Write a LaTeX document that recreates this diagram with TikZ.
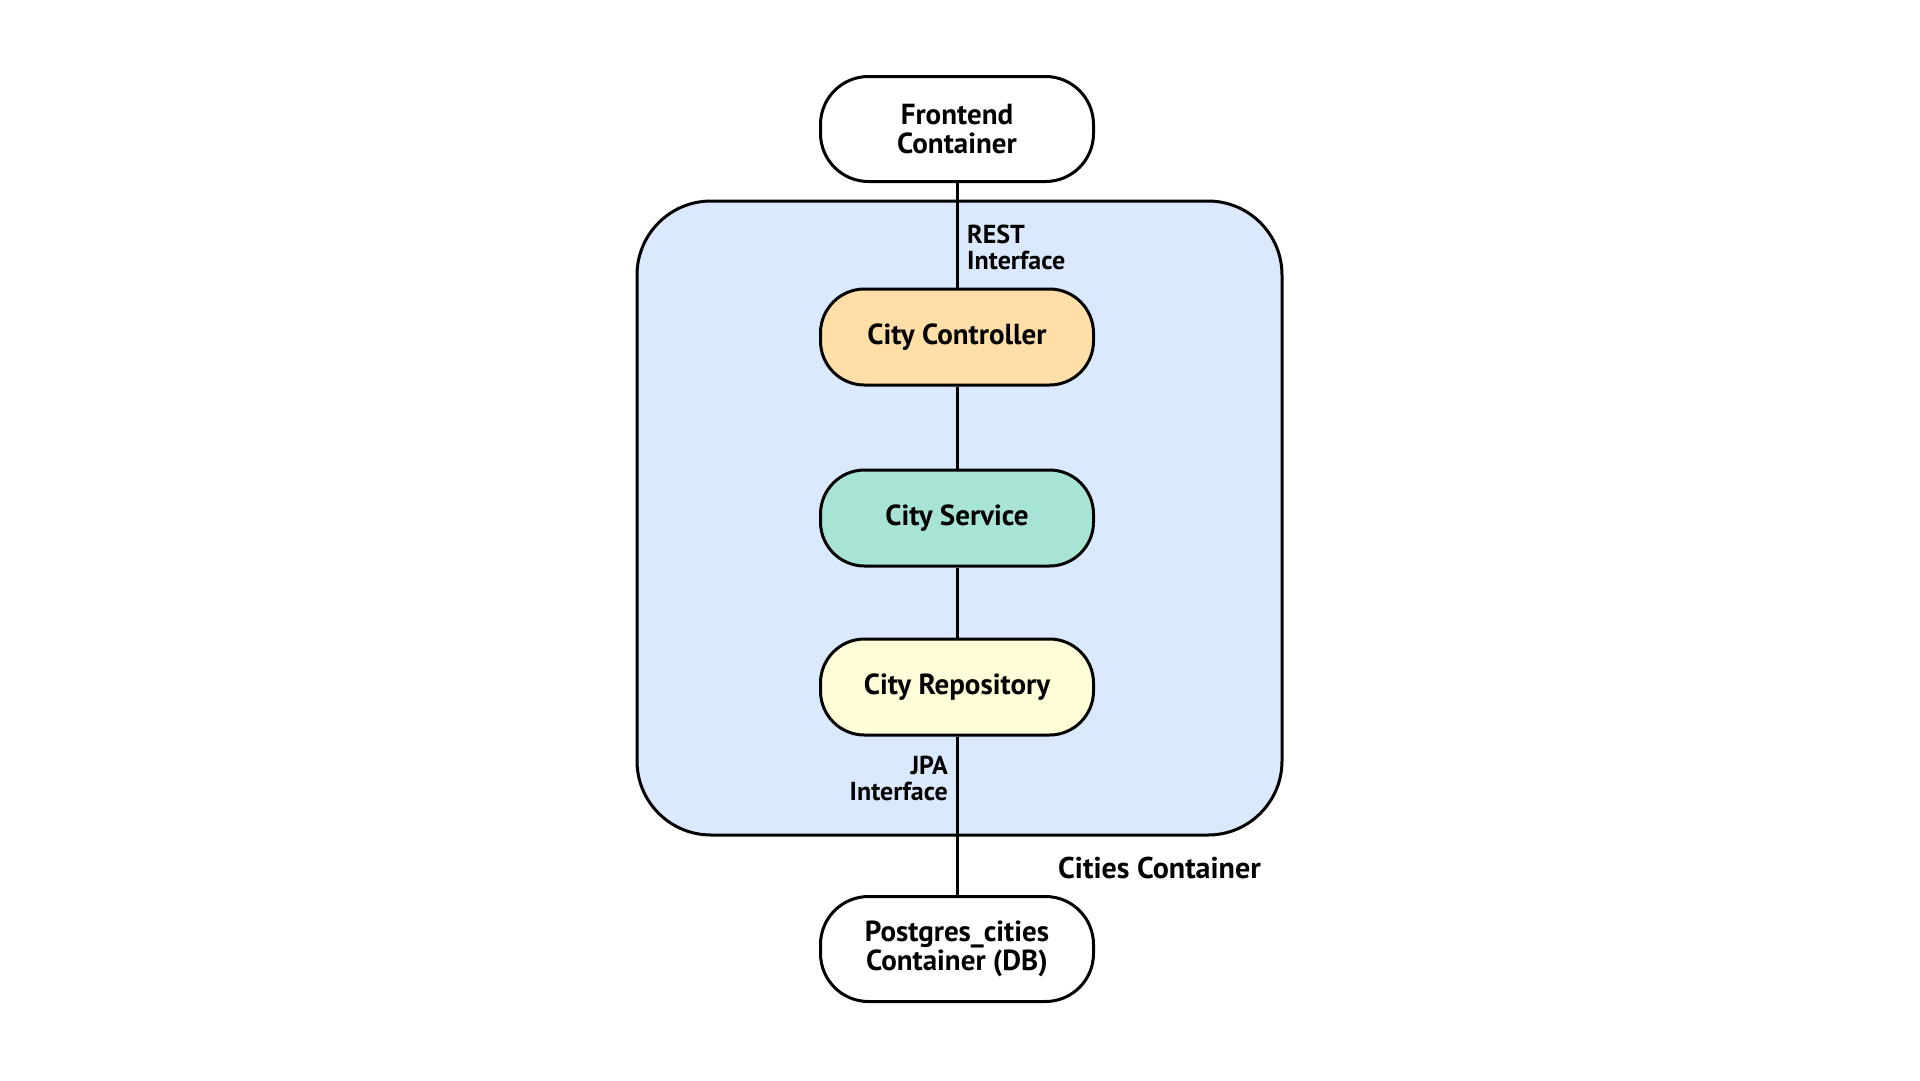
\documentclass[tikz,border=0pt]{standalone}
\usepackage{fontspec}
\setmainfont{PT Sans}
\definecolor{contblue}{RGB}{219,233,254}
\definecolor{ctrlpeach}{RGB}{255,222,168}
\definecolor{svcmint}{RGB}{168,228,214}
\definecolor{repoyellow}{RGB}{255,253,215}
\begin{document}
\begin{tikzpicture}[x=1pt,y=-1pt,
  pill/.style={draw=black, line width=3pt, rounded corners=44pt, minimum width=273pt, align=center,
     font=\fontsize{29}{29}\selectfont\bfseries, inner sep=0pt},
  outerpill/.style={pill, minimum height=105pt, fill=white, rounded corners=48pt},
  innerpill/.style={pill, minimum height=96pt},
  link/.style={draw=black, line width=3pt},
  lbl/.style={font=\fontsize{26}{26}\selectfont\bfseries, inner sep=0pt}
]
\useasboundingbox (0,0) rectangle (1920,1080);
\fill[white] (0,0) rectangle (1920,1080);
\node[draw=black, line width=3pt, rounded corners=74pt, fill=contblue, minimum width=645pt, minimum height=634pt] (cont) at (959.5,518) {};
\node[outerpill] (front) at (957,129) {Frontend\\Container};
\node[innerpill, fill=ctrlpeach] (ctrl) at (957,337) {City Controller};
\node[innerpill, fill=svcmint] (svc) at (957,518) {City Service};
\node[innerpill, fill=repoyellow] (repo) at (957,687) {City Repository};
\node[outerpill] (db) at (957,949) {Postgres\_cities\\Container (DB)};
\draw[link] (front) -- (ctrl);
\draw[link] (ctrl) -- (svc);
\draw[link] (svc) -- (repo);
\draw[link] (repo) -- (db);
\node[lbl, anchor=west, align=left] (rest) at (967,247) {REST\\Interface};
\node[lbl, anchor=east, align=right] (jpa) at (948,778) {JPA\\Interface};
\node[font=\fontsize{30}{30}\selectfont\bfseries, anchor=west, inner sep=0pt] (contlbl) at (1058,868) {Cities Container};
\end{tikzpicture}
\end{document}
